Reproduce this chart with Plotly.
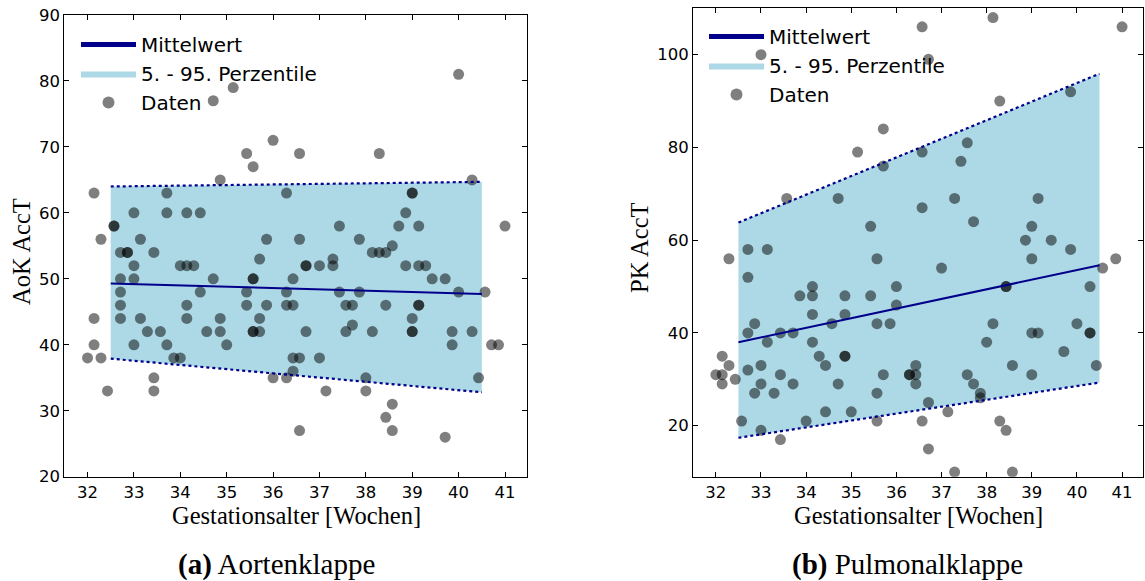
import plotly.graph_objects as go

# ---------------- data: Aortenklappe ----------------
aok_x = [34.71, 35.14, 36.0, 35.43, 36.57, 35.57, 34.86, 32.14, 33.71, 36.29,
         33.0, 33.71, 34.14, 34.43, 32.57, 32.57, 32.29, 33.14, 35.86, 36.57,
         40.0, 38.29, 40.29, 39.0, 39.0, 38.86, 37.43, 38.71, 39.14, 41.0,
         37.86, 38.57, 32.71, 32.86, 32.86, 33.43, 33.0, 34.0, 34.14, 34.29,
         35.71, 36.71, 36.71, 32.71, 33.0, 34.71, 35.57, 35.57, 36.43,
         32.71, 34.43, 35.43, 36.29, 32.71, 34.14, 35.43, 35.86, 36.29, 36.43,
         32.14, 32.71, 33.14, 34.14, 34.86, 35.71,
         33.29, 33.57, 34.57, 34.86, 35.57, 35.57, 35.71, 36.71,
         32.14, 33.0, 33.71, 35.0, 32.0, 32.29, 33.86, 34.0, 36.43, 36.57,
         36.43, 33.43, 33.43, 32.43, 36.0, 36.29, 36.57,
         38.14, 38.29, 38.43, 37.0, 37.29, 37.29, 38.86, 39.14, 39.29,
         39.43, 39.71, 37.43, 37.86, 40.0, 40.57,
         37.57, 37.71, 38.43, 39.14, 39.14, 39.0,
         37.57, 37.71, 38.14, 39.0, 39.0, 39.86, 40.29,
         39.86, 40.71, 40.86, 37.0, 38.0, 40.43, 37.14, 38.0,
         38.57, 38.43, 38.57, 39.71]
aok_y = [77, 79, 71, 69, 69, 67, 65, 63, 63, 63,
         60, 60, 60, 60, 58, 58, 56, 56, 56, 56,
         81, 69, 65, 63, 63, 60, 58, 58, 58, 58,
         56, 55, 54, 54, 54, 54, 52, 52, 52, 52,
         53, 52, 52, 50, 50, 50, 50, 50, 50,
         48, 48, 48, 48, 46, 46, 46, 46, 46, 46,
         44, 44, 44, 44, 44, 44,
         42, 42, 42, 42, 42, 42, 42, 42,
         40, 40, 40, 40, 38, 38, 38, 38, 38, 38,
         36, 35, 33, 33, 35, 35, 27,
         54, 54, 54, 52, 53, 52, 52, 52, 52,
         50, 50, 48, 48, 48, 48,
         46, 46, 46, 46, 46, 44,
         42, 43, 42, 42, 42, 42, 42,
         40, 40, 40, 38, 35, 35, 33, 33,
         31, 29, 27, 26]
aok_fit_x = [32.5, 40.5]
aok_mean = [49.3, 47.7]
aok_p05 = [37.9, 32.8]
aok_p95 = [64.0, 64.7]

# ---------------- data: Pulmonalklappe ----------------
pk_x = [33.0, 36.57, 35.71, 35.14, 35.71, 36.57, 33.57, 34.71, 35.43, 36.57,
        32.71, 33.14, 38.14, 41.0, 36.71, 38.29, 39.86, 37.57, 37.43, 37.29,
        39.14, 37.71, 39.0, 38.86, 39.43, 39.86,
        32.29, 35.57, 32.71, 34.14, 33.86, 34.14, 34.86, 35.43, 36.0, 34.14,
        34.86, 36.0, 32.86, 34.57, 35.57, 35.86, 32.71, 33.43, 33.71, 33.14,
        34.14, 32.14, 34.29, 34.86, 34.86, 32.29, 33.0, 34.43, 36.43, 32.0,
        32.14, 32.71, 33.43, 35.71, 36.29, 36.29, 36.43, 32.43, 32.14, 33.0,
        33.71, 34.71, 36.43, 32.86, 33.29, 35.57, 34.43, 35.0, 32.57, 34.0,
        35.57, 36.57, 33.0, 33.43,
        39.0, 40.86, 40.57, 37.0, 40.29, 38.43, 38.43, 38.14, 40.0, 38.0,
        39.0, 39.14, 40.29, 40.29, 39.71, 38.57, 40.43, 37.57, 39.0, 37.71,
        37.86, 37.86, 36.71, 37.14, 38.29, 38.43, 36.71, 37.29, 38.57]
pk_y = [100, 106, 84, 79, 76, 79, 69, 69, 63, 67,
        58, 58, 108, 106, 99, 90, 92, 81, 77, 69,
        69, 64, 63, 60, 60, 58,
        56, 56, 52, 50, 48, 48, 48, 48, 50, 44,
        44, 46, 42, 42, 42, 42, 40, 40, 40, 38,
        38, 35, 35, 35, 35, 33, 33, 33, 33, 31,
        31, 32, 31, 31, 31, 31, 31, 30, 29, 29,
        29, 29, 29, 27, 27, 27, 23, 23, 21, 21,
        21, 21, 19, 17,
        56, 56, 54, 54, 50, 50, 50, 42, 42, 38,
        40, 40, 40, 40, 36, 33, 33, 31, 31, 29,
        27, 26, 25, 23, 21, 19, 15, 10, 10]
pk_fit_x = [32.5, 40.5]
pk_mean = [38.0, 54.6]
pk_p05 = [17.4, 29.3]
pk_p95 = [63.8, 95.9]

x_ticks = [32, 33, 34, 35, 36, 37, 38, 39, 40, 41]
aok_yticks = [20, 30, 40, 50, 60, 70, 80, 90]
pk_yticks = [20, 40, 60, 80, 100]

NAVY = "#00008b"
BAND = "#add8e6"
PTS = "rgba(0,0,0,0.5)"

W, H = 1145, 581

fig = go.Figure()


def add_panel(xs, ys, fx, mean, p05, p95, xa, ya, legend):
    fig.add_trace(go.Scatter(x=fx, y=p05, mode="lines", line=dict(width=0, color=BAND),
                             showlegend=False, hoverinfo="skip", xaxis=xa, yaxis=ya))
    fig.add_trace(go.Scatter(x=fx, y=p95, mode="lines", line=dict(width=0, color=BAND),
                             fill="tonexty", fillcolor=BAND, name="5. - 95. Perzentile",
                             legend=legend, legendrank=2, xaxis=xa, yaxis=ya))
    fig.add_trace(go.Scatter(x=xs, y=ys, mode="markers", name="Daten",
                             marker=dict(size=11, color=PTS, line=dict(width=0)),
                             legend=legend, legendrank=3, xaxis=xa, yaxis=ya))
    for b in (p05, p95):
        fig.add_trace(go.Scatter(x=fx, y=b, mode="lines",
                                 line=dict(color=NAVY, width=2.2, dash="dot"),
                                 showlegend=False, xaxis=xa, yaxis=ya))
    fig.add_trace(go.Scatter(x=fx, y=mean, mode="lines", name="Mittelwert",
                             line=dict(color=NAVY, width=2),
                             legend=legend, legendrank=1, xaxis=xa, yaxis=ya))


add_panel(aok_x, aok_y, aok_fit_x, aok_mean, aok_p05, aok_p95, "x", "y", "legend")
add_panel(pk_x, pk_y, pk_fit_x, pk_mean, pk_p05, pk_p95, "x2", "y2", "legend2")

tickfont = dict(family="DejaVu Sans", size=16.5, color="black")
axis_common = dict(showline=True, linecolor="black", linewidth=1.3, mirror="ticks",
                   ticks="inside", ticklen=5, tickwidth=1, tickcolor="black",
                   showgrid=False, zeroline=False, tickfont=tickfont, automargin=False)

leg_common = dict(font=dict(family="DejaVu Sans", size=20, color="black"),
                  bgcolor="rgba(0,0,0,0)", borderwidth=0, xanchor="left", yanchor="top",
                  traceorder="normal", itemsizing="constant", itemwidth=55)

serif = "Liberation Serif"


def ann(text, xp, yp, size, angle=0):
    return dict(text=text, x=xp / W, y=1 - yp / H, xref="paper", yref="paper",
                xanchor="center", yanchor="middle", textangle=angle, showarrow=False,
                font=dict(family=serif, size=size, color="black"))


fig.update_layout(
    width=W, height=H, autosize=False,
    margin=dict(l=0, r=0, t=0, b=0, pad=0, autoexpand=False),
    paper_bgcolor="white", plot_bgcolor="white",
    xaxis=dict(domain=[0.0562, 0.4605], range=[31.5, 41.48], tickvals=x_ticks,
               anchor="y", **axis_common),
    yaxis=dict(domain=[0.1795, 0.9742], range=[20, 90], tickvals=aok_yticks,
               anchor="x", **axis_common),
    xaxis2=dict(domain=[0.6055, 0.9985], range=[31.5, 41.47], tickvals=x_ticks,
                anchor="y2", **axis_common),
    yaxis2=dict(domain=[0.1795, 0.9857], range=[9, 110], tickvals=pk_yticks,
                anchor="x2", **axis_common),
    legend=dict(x=76 / W, y=1 - 25 / H, **leg_common),
    legend2=dict(x=704 / W, y=1 - 17 / H, **leg_common),
    annotations=[
        ann("Gestationsalter [Wochen]", 296, 515, 24.5),
        ann("Gestationsalter [Wochen]", 918, 515, 24.5),
        ann("AoK AccT", 21, 252, 24.5, -90),
        ann("PK AccT", 640, 248, 24.5, -90),
        ann("<b>(a)</b> Aortenklappe", 276, 564, 29),
        ann("<b>(b)</b> Pulmonalklappe", 907, 564, 29),
    ],
)

fig.write_html("out.html")
